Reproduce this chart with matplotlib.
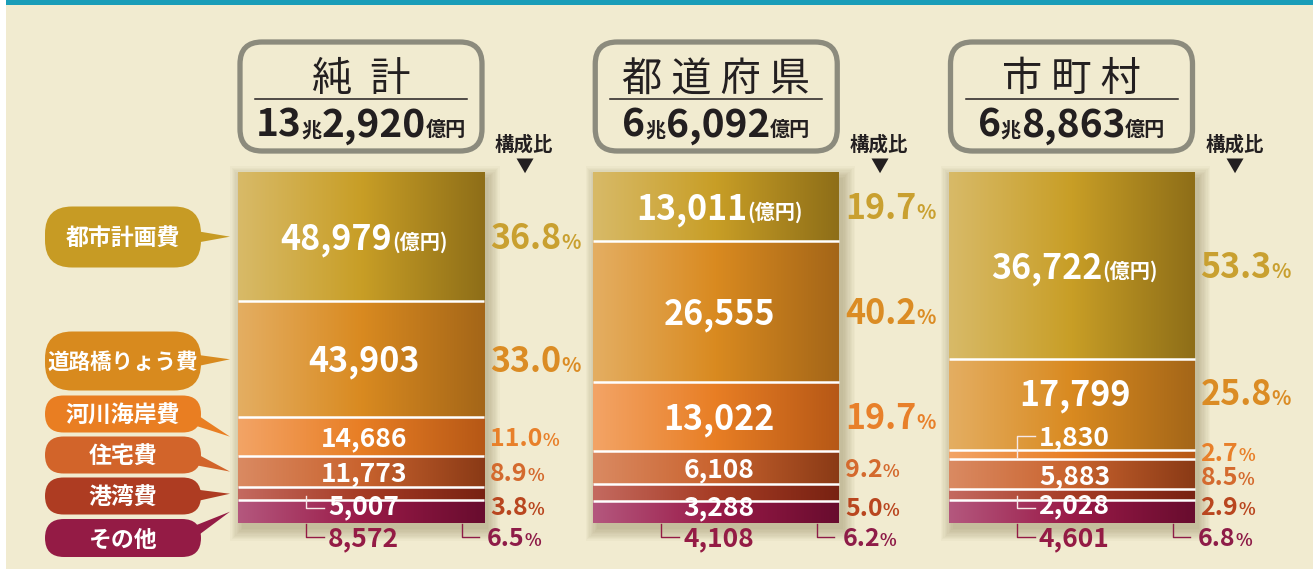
import numpy as np
import matplotlib
matplotlib.use("Agg")
import matplotlib.pyplot as plt
from matplotlib.patches import FancyBboxPatch, Polygon, Rectangle
from matplotlib.colors import LinearSegmentedColormap

plt.rcParams['font.family'] = ['Noto Sans CJK JP', 'DejaVu Sans']

# ---------------- data ----------------
column_titles = ["純  計", "都 道 府 県", "市 町 村"]
categories = ["都市計画費", "道路橋りょう費", "河川海岸費", "住宅費", "港湾費", "その他"]
net_values = [48979, 43903, 14686, 11773, 5007, 8572]
pref_values = [13011, 26555, 13022, 6108, 3288, 4108]
muni_values = [36722, 17799, 1830, 5883, 2028, 4601]
net_shares = ["36.8", "33.0", "11.0", "8.9", "3.8", "6.5"]
pref_shares = ["19.7", "40.2", "19.7", "9.2", "5.0", "6.2"]
muni_shares = ["53.3", "25.8", "2.7", "8.5", "2.9", "6.8"]
unit_label = "億円"
trillion_label = "兆"
share_title = "構成比"

column_values = [net_values, pref_values, muni_values]
column_shares = [net_shares, pref_shares, muni_shares]

# ---------------- style ----------------
BG = '#F1EBD0'
TEAL = '#1A9DB8'
DARK = '#231F20'
cat_colors = ['#C79B24', '#D88A1E', '#E97E22', '#D2642A', '#AE3C22', '#941B45']
grad_light = ['#D8BA68', '#E4AE62', '#F3A466', '#DA8A62', '#C46A60', '#B4587E']
grad_mid = ['#C89E26', '#D98A20', '#E87E24', '#C9632E', '#A63C24', '#9A1A48']
grad_dark = ['#8E6E18', '#A46618', '#B65816', '#8A3A16', '#782212', '#680C2E']
pct_colors = ['#C9A030', '#DB8C24', '#E8802A', '#D46A2E', '#B9461F', '#8E1C48']
pill_centers = [237, 361, 414, 455, 496, 538]
pill_heights = [61, 59, 37, 37, 37, 38]
pill_font = [16.5, 15.5, 16.5, 16.5, 16.5, 16.5]

W, H = 1313, 571
fig = plt.figure(figsize=(W / 100, H / 100), dpi=100)
fig.patch.set_facecolor('white')


def pix_axes(z):
    a = fig.add_axes([0, 0, 1, 1], zorder=z)
    a.set_xlim(0, W)
    a.set_ylim(H, 0)
    a.axis('off')
    return a


bg = pix_axes(0)
ax = fig.add_axes([0, 0, 1, 1], zorder=1)
ax.axis('off')
fg = pix_axes(2)

CX0, CXS, CY0, CYS = 361.0, 355.25, 172.0, 3.51
XL = (-CX0 / CXS, (W - CX0) / CXS)
YL = ((H - CY0) / CYS, -CY0 / CYS)
ax.set_xlim(*XL)
ax.set_ylim(*YL)


def to_px(x, y):
    d = ax.transData.transform((x, y))
    return d[0], H - d[1]


renderer = fig.canvas.get_renderer()


def rich(x, yc, parts, ha='center', weight='bold'):
    arts, widths = [], []
    for s, size, col in parts:
        t = fg.text(0, 0, s, fontsize=size, color=col, fontweight=weight,
                    va='baseline', ha='left', zorder=5)
        widths.append(t.get_window_extent(renderer).width)
        arts.append(t)
    big = max(p[1] for p in parts) * 100 / 72
    base = yc + 0.365 * big
    total = sum(widths)
    x0 = x - total / 2 if ha == 'center' else x
    for t, wd in zip(arts, widths):
        t.set_position((x0, base))
        x0 += wd


# background and top stripe
bg.add_patch(Rectangle((6, 0), W - 6, H - 2, fc=BG, ec='none', zorder=0))
bg.add_patch(Rectangle((6, 0), W - 6, 5, fc=TEAL, ec='none', zorder=1))

grad = np.linspace(0, 1, 256)[None, :]
cmaps = [LinearSegmentedColormap.from_list(f'c{k}', [grad_light[k], grad_mid[k], grad_dark[k]])
         for k in range(len(categories))]

bar_width = 246 / CXS
xpos = np.arange(len(column_titles))

for c in range(len(column_titles)):
    vals = np.array(column_values[c], dtype=float)
    pct = vals / vals.sum() * 100
    bottoms = np.concatenate([[0], np.cumsum(pct)[:-1]])
    bars = ax.bar(np.full(len(vals), xpos[c]), pct, bottom=bottoms, width=bar_width,
                  color=cat_colors, edgecolor='none', zorder=2)
    for k, b in enumerate(bars):
        x0, y0, w, h = b.get_x(), b.get_y(), b.get_width(), b.get_height()
        im = ax.imshow(grad, extent=[x0, x0 + w, y0 + h, y0], cmap=cmaps[k],
                       aspect='auto', zorder=2.1, interpolation='bilinear')
        im.set_clip_path(b)
    ax.set_xlim(*XL)
    ax.set_ylim(*YL)
    x_left = bars[0].get_x()
    x_right = x_left + bars[0].get_width()
    ax.hlines(bottoms[1:], x_left, x_right, colors='white', lw=1.8, zorder=3)

    L, T = to_px(x_left, 0)
    R, B = to_px(x_right, 100)
    Cx = (L + R) / 2

    # shadow
    for i in range(10):
        e = i * 1.3
        bg.add_patch(Rectangle((L + 4 - e, T + 6 - e), (R - L) + 2 * e, (B - T) + 2 * e,
                               fc='#5e4e22', alpha=0.03, ec='none', zorder=2))

    # header box
    bg.add_patch(FancyBboxPatch((L + 2, 42), (R - L) - 4, 109,
                                boxstyle="round,pad=0,rounding_size=22",
                                fc=BG, ec='#8C8B7D', lw=3.8, zorder=3))
    fg.text(Cx, 76 + 0.38 * 29 * 100 / 72, column_titles[c], fontsize=29, color=DARK,
            ha='center', va='baseline', fontweight='normal')
    fg.plot([L + 17, R - 17], [98.5, 98.5], color=DARK, lw=1.1)
    total = int(vals.sum())
    rich(Cx, 122, [(str(total // 10000), 28, DARK), (trillion_label, 14.5, DARK),
                   (f"{total % 10000:,}", 28, DARK), (unit_label, 14.5, DARK)])

    # share title
    fg.text(R + 40, 143 + 0.38 * 14 * 100 / 72, share_title, fontsize=14, color=DARK,
            fontweight='bold', ha='center', va='baseline')
    fg.text(R + 40, 167, "▼", fontsize=13, color=DARK, ha='center', va='center')

    # segment labels
    edges_px = [to_px(0, p)[1] for p in np.concatenate([bottoms, [100]])]
    for k in range(len(vals)):
        stop, sbot = edges_px[k], edges_px[k + 1]
        mid = (stop + sbot) / 2
        bigseg = pct[k] > 15
        vsize = 24.5 if bigseg else 19
        psize = 24.5 if bigseg else 18
        psmall = 14.5 if bigseg else 12.5
        vcol = 'white'
        pcol = pct_colors[k]
        leader = None
        pleader = False
        if k == len(vals) - 1:
            vy = py = B + 14
            vcol = cat_colors[k]
            leader = ([Cx - 55, Cx - 55, Cx - 37], [B + 1, vy, vy], cat_colors[k])
            pleader = True
        elif k == len(vals) - 2:
            vy = sbot + 4
            py = sbot + 6
            if c != 1:
                leader = ([Cx - 55, Cx - 55, Cx - 37], [mid + 2, vy + 4, vy + 4], '#F6E8E8')
        elif c == 2 and k == 2:
            vy = stop - 14
            py = mid - 3
            leader = ([Cx - 37, Cx - 55, Cx - 55], [vy, vy, mid + 2], '#F6E8E8')
        elif c == 2 and k == 1:
            vy = py = mid - 12
        elif c == 2 and k == 3:
            vy = mid
            py = mid + 2
        else:
            vy = py = mid
        parts = [(f"{int(vals[k]):,}", vsize, vcol)]
        if k == 0:
            parts.append((f"({unit_label})", 14.5, vcol))
        if leader is not None:
            fg.plot(leader[0], leader[1], color=leader[2], lw=1.0, zorder=4)
            rich(Cx - 33, vy, parts, ha='left')
        else:
            rich(Cx + 3, vy, parts, ha='center')
        if pleader:
            fg.plot([R - 22, R - 22, R - 5], [B + 1, py, py], color=pcol, lw=1.0)
            rich(R + 3, py, [(column_shares[c][k], psize, pcol), ("%", psmall, pcol)], ha='left')
        else:
            rich(R + 6, py, [(column_shares[c][k], psize, pcol), ("%", psmall, pcol)], ha='left')

    if c == 0:
        # category callouts pointing at the net-total bar
        for k in range(len(categories)):
            yc, h = pill_centers[k], pill_heights[k]
            tip_y = (edges_px[k] + edges_px[k + 1]) / 2
            bg.add_patch(Polygon([(184, yc - 8), (184, yc + 8), (L - 8, tip_y)],
                                 closed=True, fc=cat_colors[k], ec='none', zorder=4))
            bg.add_patch(FancyBboxPatch((45, yc - h / 2), 156, h,
                                        boxstyle=f"round,pad=0,rounding_size={min(h / 2, 27)}",
                                        fc=cat_colors[k], ec='none', zorder=4))
            fs = pill_font[k]
            fg.text(123, yc + 0.38 * fs * 100 / 72, categories[k], fontsize=fs,
                    color='white', fontweight='bold', ha='center', va='baseline')

ax.set_xlim(*XL)
ax.set_ylim(*YL)
fig.savefig('out.png', dpi=100, facecolor=fig.get_facecolor())
